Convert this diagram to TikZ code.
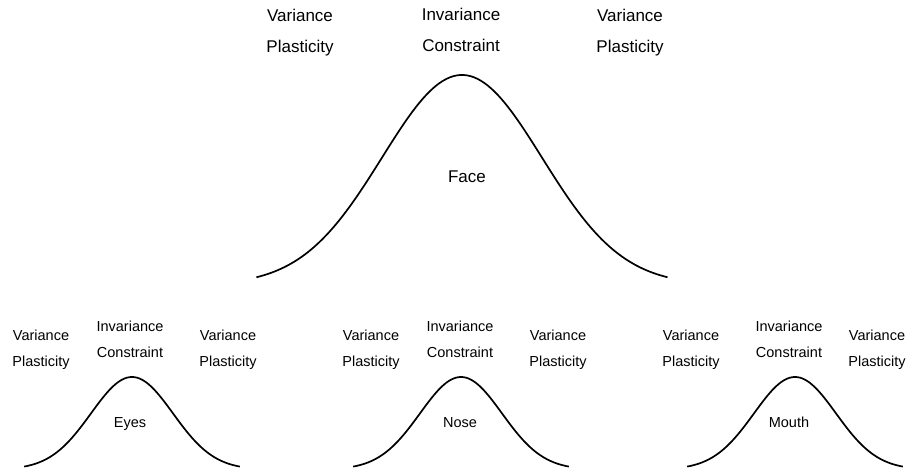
\documentclass[tikz,border=0pt]{standalone}
\usepackage{fontspec}
\setmainfont{Liberation Sans}
\begin{document}
\begin{tikzpicture}[x=1pt,y=-1pt,
  curve/.style={line width=1.7pt, line join=round},
  bigtxt/.style={font=\fontsize{17}{20}\selectfont, anchor=base, inner sep=0pt},
  smalltxt/.style={font=\fontsize{14.5}{17}\selectfont, anchor=base, inner sep=0pt}]
\useasboundingbox (0,0) rectangle (906,473);
% big curve
\draw[curve] plot[domain=-2.57:2.57, samples=120] ({462+80*\x},{285-210*exp(-0.5*\x*\x)});
\node[bigtxt] (lv) at (300,22) {Variance};
\node[bigtxt] (lp) at (300,53) {Plasticity};
\node[bigtxt] (ci) at (461,21) {Invariance};
\node[bigtxt] (cc) at (461,52) {Constraint};
\node[bigtxt] (rv) at (630,22) {Variance};
\node[bigtxt] (rp) at (630,53) {Plasticity};
\node[bigtxt] (face) at (467,183) {Face};
% small curves
\foreach \c/\lx/\ix/\rx/\lab/\nm in {132/41/130/228/Eyes/e, 461/371/460/558/Nose/n, 795/691/789/877/Mouth/m}{
  \draw[curve] plot[domain=-2.63:2.63, samples=100] ({\c+41*\x},{469.5-92.5*exp(-0.5*\x*\x)});
  \node[smalltxt] (\nm lv) at (\lx,340.7) {Variance};
  \node[smalltxt] (\nm lp) at (\lx,366.7) {Plasticity};
  \node[smalltxt] (\nm ci) at (\ix,331.7) {Invariance};
  \node[smalltxt] (\nm cc) at (\ix,357.7) {Constraint};
  \node[smalltxt] (\nm rv) at (\rx,340.7) {Variance};
  \node[smalltxt] (\nm rp) at (\rx,366.7) {Plasticity};
  \node[smalltxt] (\nm lab) at (\ix,427.5) {\lab};
}
\end{tikzpicture}
\end{document}
